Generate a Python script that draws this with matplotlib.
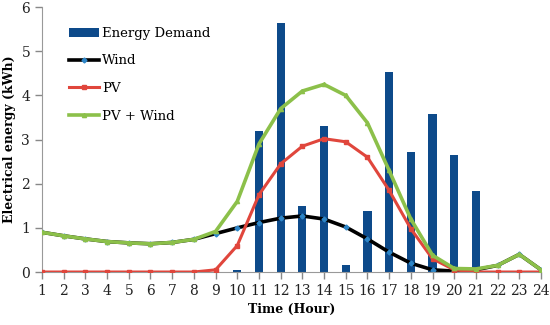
import matplotlib.pyplot as plt

hours = list(range(1, 25))

demand = [0, 0, 0, 0, 0, 0, 0, 0, 0, 0.05, 3.2, 5.65, 1.5, 3.3, 0.15, 1.38,
          4.52, 2.72, 3.58, 2.66, 1.83, 0, 0, 0]
wind = [0.9, 0.82, 0.75, 0.69, 0.66, 0.64, 0.67, 0.74, 0.87, 1.0, 1.12, 1.22,
        1.27, 1.2, 1.02, 0.75, 0.45, 0.2, 0.05, 0.02, 0.05, 0.15, 0.4, 0.05]
pv = [0, 0, 0, 0, 0, 0, 0, 0, 0.05, 0.6, 1.75, 2.45, 2.85, 3.02, 2.95, 2.6,
      1.85, 0.98, 0.3, 0.05, 0, 0, 0, 0]
pv_wind = [0.9, 0.82, 0.75, 0.69, 0.66, 0.64, 0.67, 0.74, 0.92, 1.6, 2.9, 3.7,
           4.1, 4.25, 4.0, 3.38, 2.3, 1.2, 0.38, 0.08, 0.07, 0.15, 0.4, 0.05]

plt.rcParams['font.family'] = ['DejaVu Serif']

fig = plt.figure(figsize=(5.5, 3.25), dpi=100)
ax = fig.add_axes([0.0764, 0.163, 0.9072, 0.815])

b = ax.bar(hours, demand, width=0.38, color='#0d4a8a', label='Energy Demand', zorder=1)
l1, = ax.plot(hours, wind, color='black', lw=2.6, marker='D', ms=2.5,
              mfc='#2e86c8', mec='#2e86c8', label='Wind', zorder=2)
l2, = ax.plot(hours, pv, color='#e0463c', lw=2.2, marker='s', ms=3.5,
              mfc='#e0463c', mec='#e0463c', label='PV', zorder=3)
l3, = ax.plot(hours, pv_wind, color='#8cc04a', lw=2.6, marker='^', ms=3,
              mfc='#8cc04a', mec='#8cc04a', label='PV + Wind', zorder=4)

ax.set_xlim(1, 24)
ax.set_ylim(0, 6)
ax.set_xticks(hours)
ax.set_yticks(range(0, 7))
ax.tick_params(axis='both', colors='#888888', labelcolor='#222222', labelsize=10,
               length=5, width=1)
for side in ['top', 'right']:
    ax.spines[side].set_visible(False)
for side in ['left', 'bottom']:
    ax.spines[side].set_color('#999999')

ax.set_xlabel('Time (Hour)', fontweight='bold', fontsize=9)
ax.set_ylabel('Electrical energy (kWh)', fontweight='bold', fontsize=9)

ax.legend([b, l1, l2, l3], ['Energy Demand', 'Wind', 'PV', 'PV + Wind'],
          loc='upper left', bbox_to_anchor=(0.03, 0.97), frameon=False,
          fontsize=9.5, labelspacing=1.1, handlelength=2.3, handletextpad=0.2)

fig.savefig('out.png', dpi=100)
